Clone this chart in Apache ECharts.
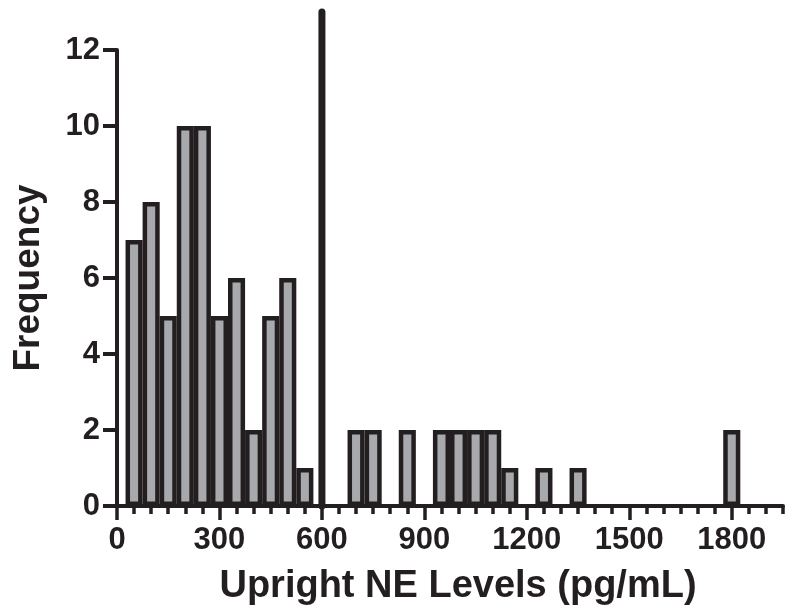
<!DOCTYPE html>
<html lang="en">
<head>
  <meta charset="UTF-8">
  <title>Upright NE Levels</title>
  <script src="https://cdn.jsdelivr.net/npm/echarts@6/dist/echarts.min.js"></script>
</head>
<body style="margin:0">
<div id="chart" style="width: 794px;height: 616px"></div>
</body>
<script>

  var chart = echarts.init(document.getElementById('chart'));

  // histogram bins (centre of bin, pg/mL) and counts
  var binCenters = [50, 100, 150, 200, 250, 300, 350, 400, 450, 500, 550, 700, 750, 850, 950, 1000, 1050, 1100, 1150, 1250, 1350, 1800];
  var frequencies = [7, 8, 5, 10, 10, 5, 6, 2, 5, 6, 1, 2, 2, 2, 2, 2, 2, 2, 1, 1, 1, 2];
  var binWidth = 50;
  var xLabelValues = [0, 300, 600, 900, 1200, 1500, 1800];
  var cutoff = [600, 13];   // vertical reference line: x value and top

  var ink = '#231f20';
  var minorTicks = [];
  for (var v = 50; v <= 1950; v += 50) {
    minorTicks.push(v);
  }

  var histData = [];
  for (var i = 0; i < binCenters.length; i++) {
    histData.push([binCenters[i], frequencies[i]]);
  }

  var labelFont = {
    color: ink,
    fontFamily: 'Liberation Sans, Arial, sans-serif',
    fontWeight: 'bold',
    fontSize: 31
  };

  option = {
    animation: false,
    grid: {
      left: 117,
      right: 11,
      top: 50,
      bottom: 110
    },
    xAxis: [
      {
        type: 'value',
        position: 'bottom',
        min: 0,
        max: 1950,
        splitLine: {show: false},
        axisLine: {lineStyle: {color: ink, width: 4}},
        axisTick: {
          customValues: minorTicks,
          length: 8,
          lineStyle: {color: ink, width: 3.5}
        },
        axisLabel: {show: false}
      },
      {
        type: 'value',
        position: 'bottom',
        min: 0,
        max: 1950,
        splitLine: {show: false},
        axisLine: {show: false},
        axisTick: {
          customValues: xLabelValues,
          length: 14,
          lineStyle: {color: ink, width: 3.5}
        },
        axisLabel: Object.assign({
          customValues: xLabelValues,
          margin: 19,
          formatter: function (val) { return String(val); }
        }, labelFont),
        name: 'Upright NE Levels (pg/mL)',
        nameLocation: 'middle',
        nameGap: 62,
        nameTextStyle: {
          color: ink,
          fontFamily: 'Liberation Sans, Arial, sans-serif',
          fontWeight: 'bold',
          fontSize: 38,
          padding: [0, 0, 0, 16]
        }
      }
    ],
    yAxis: {
      type: 'value',
      min: 0,
      max: 12,
      interval: 2,
      splitLine: {show: false},
      axisLine: {show: true, lineStyle: {color: ink, width: 4}},
      axisTick: {show: true, length: 14, lineStyle: {color: ink, width: 4}},
      axisLabel: Object.assign({margin: 17}, labelFont),
      name: 'Frequency',
      nameLocation: 'middle',
      nameGap: 70,
      nameTextStyle: {
        color: ink,
        fontFamily: 'Liberation Sans, Arial, sans-serif',
        fontWeight: 'bold',
        fontSize: 37
      }
    },
    series: [
      {
        type: 'custom',
        xAxisIndex: 0,
        data: histData,
        renderItem: function (params, api) {
          var x = api.value(0);
          var n = api.value(1);
          if (!n) return;
          var lw = 4.5;
          var p0 = api.coord([x - binWidth / 2, n]);
          var p1 = api.coord([x + binWidth / 2, 0]);
          return {
            type: 'rect',
            shape: {
              x: p0[0] + lw / 2,
              y: p0[1] + lw / 2,
              width: p1[0] - p0[0] - lw,
              height: p1[1] - p0[1] - lw
            },
            style: {fill: '#a7a9ac', stroke: ink, lineWidth: lw}
          };
        }
      },
      { // cutoff line at 600
        type: 'custom',
        xAxisIndex: 0,
        clip: false,
        z: 5,
        data: [cutoff],
        renderItem: function (params, api) {
          var top = api.coord([api.value(0), api.value(1)]);
          var bottom = api.coord([api.value(0), 0]);
          return {
            type: 'line',
            shape: {x1: top[0], y1: top[1], x2: bottom[0], y2: bottom[1]},
            style: {stroke: ink, lineWidth: 7, lineCap: 'round'}
          };
        }
      }
    ]
  };

  chart.setOption(option);

</script>
</html>
